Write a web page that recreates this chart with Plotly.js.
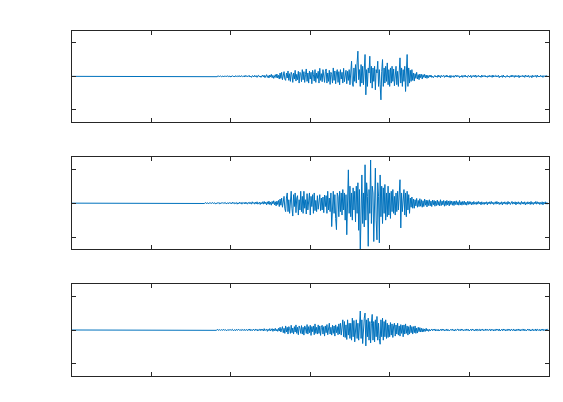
<!DOCTYPE html>
<html><head><meta charset="utf-8">
<script src="https://cdn.plot.ly/plotly-3.0.1.min.js"></script>
<style>html,body{margin:0;padding:0;background:#fff}#plot{width:563px;height:402px}</style>
</head><body><div id="plot"></div>
<script>
// sample interval (time units per sample); time axis 0..6
const dt = 0.01;
const xTicks = [0,1,2,3,4,5,6];
const yTicks = [-1,0,1];

const trace1 = [
0,0,0,0,0,0,0,0,0,0, 0,0,0,0,0,0,0,0,0,0, 0,0,0,0,0,0,0,0,0,0, 0,0,0,0,0,0,0,0,0,0,
0,0,0,0,0,0,0,0,0,0, 0,0,0,0,0,0,0,0,0,0, 0,0,0,0,0,0,0,0,0,0, 0,0,0,0,0,0,0,0,0,0,
0,0,0,0,0,0,0,0,0,0, 0,0,0,0,0,0,0,0,0,0, 0,0,0,0,0,0,0,0,0,0, 0,0,0,0,0,0,0,0,0,0,
0,0,0,0,0,0,0,0,0,0, 0,0,0,0,0,0,0,0,0,0,
0,0,0.01,0,-0.01,0,0.01,0,0,-0.01,
0,0.01,0,-0.01,0.01,0,0,-0.01,0.01,0,
-0.01,0.01,0,0.01,-0.01,0,0.01,-0.01,0,0.01,
0,-0.01,0.01,0.01,-0.01,0,0.01,-0.01,0.01,0,
-0.01,0.01,0,-0.01,0.02,-0.01,0,0.01,-0.01,0.01,
0.01,-0.02,0.01,0,0.01,-0.01,0.02,-0.01,0,0.01,
-0.02,0.01,0.02,-0.01,0.01,-0.02,0.02,0,-0.01,0.02,
-0.01,0.02,-0.02,0.01,0.02,-0.01,0.01,-0.02,0.03,-0.01,
0.02,-0.02,0.01,0.03,-0.02,0.01,-0.03,0.02,0.01,-0.02,
0.03,-0.01,0.02,-0.03,0.02,0.03,-0.02,0.01,-0.03,0.02,
0.04,-0.02,0.03,-0.04,0.02,0.05,-0.03,0.02,-0.05,0.04,
-0.02,0.06,-0.04,0.03,-0.06,0.02,0.05,-0.04,0.07,-0.05,
0.03,-0.08,0.1,-0.06,0.12,-0.1,0.05,0.14,-0.08,-0.12,
0.1,-0.05,0.16,-0.12,0.08,-0.15,0.12,0.05,-0.18,0.1,
-0.08,0.18,-0.14,0.06,-0.1,0.15,-0.2,0.12,0.08,-0.16,
0.2,-0.1,0.14,-0.18,0.06,0.22,-0.15,0.1,-0.2,0.16,
-0.08,0.12,-0.22,0.18,0.05,-0.14,0.2,-0.18,0.1,-0.06,
0.15,-0.2,0.24,-0.12,0.08,-0.16,0.2,-0.1,-0.18,0.14,
0.22,-0.2,0.1,-0.15,0.18,-0.24,0.12,0.06,-0.2,0.25,
-0.12,0.16,-0.22,0.1,0.2,-0.18,0.14,-0.25,0.2,-0.08,
0.12,-0.2,0.24,-0.16,0.1,0.18,-0.22,0.15,-0.12,0.2,
-0.25,0.3,0.45,-0.2,-0.3,0.25,-0.15,0.35,-0.2,0.4,
0.75,-0.1,0.2,-0.3,0.35,-0.2,0.3,-0.25,0.4,0.65,
-0.55,0.2,-0.3,0.25,0.1,0.6,-0.2,0.3,-0.35,0.25,
-0.15,0.3,-0.4,0.2,0.1,0.45,-0.3,0.2,-0.25,-0.7,
0.15,0.5,-0.3,0.25,-0.2,0.3,-0.15,0.4,-0.25,0.2,
-0.3,0.25,-0.2,0.3,-0.15,0.22,-0.28,0.2,0.3,-0.25,
0.15,-0.3,0.2,0.55,-0.2,0.25,-0.3,0.2,-0.15,0.3,
-0.45,0.2,0.65,-0.3,0.25,-0.2,0.18,-0.15,0.2,-0.12,
0.1,-0.14,0.08,-0.06,0.12,-0.08,0.05,-0.1,0.07,-0.04,
0.06,-0.08,0.05,-0.03,0.06,-0.05,0.04,-0.06,0.03,-0.04,
0.03,-0.02,0.04,-0.03,0.01,-0.04,0.02,0.03,-0.02,0.01,
-0.03,0.04,-0.02,0.02,-0.04,0.03,-0.01,0.02,0.03,-0.03,
0.02,-0.02,0.04,-0.02,0.01,-0.03,0.03,-0.04,0.02,-0.01,
0.02,-0.03,0.01,0.04,-0.02,0.03,-0.01,0.02,-0.04,0.01,
-0.02,0.03,-0.03,0.02,-0.01,0.04,-0.02,0.01,-0.03,0.03,
0.01,-0.02,0.03,-0.04,0.02,-0.01,0.03,-0.02,0.04,-0.03,
0.02,-0.01,0.03,-0.02,0.01,-0.03,0.04,-0.02,0.02,-0.01,
0.03,-0.02,0.01,-0.03,0.02,-0.02,0.03,-0.01,0.02,-0.03,
0.04,-0.02,0.01,0.03,-0.02,0.02,-0.01,0.03,-0.04,0.01,
-0.02,0.02,-0.03,0.04,-0.02,0.01,-0.03,0.02,0.03,-0.02,
0.01,-0.03,0.02,-0.02,0.04,-0.01,0.02,-0.03,0.03,-0.02,
0.02,-0.01,0.03,-0.04,0.02,-0.02,0.01,0.03,-0.02,0.02,
-0.03,0.04,-0.01,0.02,-0.02,0.03,-0.03,0.01,0.02,-0.04,
0.03,-0.02,0.02,-0.01,0.03,-0.03,0.04,-0.02,0.01,-0.02,
0.03,-0.01,0.02,-0.03,0.02,0.01,-0.02,0.03,-0.02,0.01,
0
];

const trace2 = [
0,0,0,0,0,0,0,0,0,0, 0,0,0,0,0,0,0,0,0,0, 0,0,0,0,0,0,0,0,0,0, 0,0,0,0,0,0,0,0,0,0,
0,0,0,0,0,0,0,0,0,0, 0,0,0,0,0,0,0,0,0,0, 0,0,0,0,0,0,0,0,0,0, 0,0,0,0,0,0,0,0,0,0,
0,0,0,0,0,0,0,0,0,0, 0,0,0,0,0,0,0,0,0,0, 0,0,0,0,0,0,0,0,0,0, 0,0,0,0,0,0,0,0,0,0,
0,0,0,0,0,0,0,0,0,0, 0,0,0,0,0,0,0,0,0,0,
0,0.01,0,0,-0.01,0.01,0,-0.01,0,0.01,
-0.01,0,0.01,-0.01,0,0.01,0,-0.01,0.01,0,
0.01,-0.01,0,0.01,-0.01,0.01,0,-0.01,0.02,-0.01,
0,0.01,-0.02,0.01,0,0.01,-0.01,0.02,-0.01,0,
0.01,-0.02,0.01,0.01,-0.01,0.02,-0.02,0,0.01,-0.01,
0.02,-0.01,0,0.02,-0.02,0.01,0.01,-0.02,0.02,-0.01,
0.01,-0.02,0.03,-0.01,0.02,-0.02,0.01,0.02,-0.03,0.01,
-0.02,0.03,-0.01,0.02,-0.03,0.02,0.01,-0.02,0.03,-0.02,
0.02,-0.03,0.01,0.03,-0.02,0.02,-0.03,0.04,-0.01,0.02,
-0.03,0.03,-0.02,0.04,-0.03,0.01,0.03,-0.04,0.02,-0.02,
0.04,-0.03,0.05,-0.02,0.03,-0.05,0.04,-0.03,0.06,-0.04,
0.03,-0.06,0.05,-0.02,0.07,-0.05,0.04,-0.08,0.06,-0.04,
0.08,-0.1,0.12,-0.06,0.15,-0.12,0.1,0.2,-0.16,-0.25,
0.15,0.3,-0.25,0.1,-0.3,0.2,0.35,-0.15,-0.38,0.25,
-0.1,0.3,-0.28,0.15,0.22,-0.35,0.1,-0.2,0.35,-0.25,
0.2,-0.3,0.35,-0.15,0.1,-0.32,0.28,-0.2,0.12,0.3,
-0.35,0.2,-0.1,0.25,-0.3,0.3,-0.22,0.08,-0.25,0.22,
-0.18,0.2,0.25,-0.22,0.15,-0.2,0.18,-0.28,0.24,-0.1,
0.22,-0.3,0.35,-0.2,0.15,-0.25,0.3,-0.69,0.2,0.35,
-0.3,0.25,-0.45,-0.78,0.3,0.2,-0.4,0.35,-0.25,0.3,
-0.35,0.4,-0.2,0.3,-0.5,0.25,-0.93,0.4,0.98,-0.3,
0.5,-0.4,0.3,-0.5,0.45,-0.2,0.35,-0.55,0.5,-0.3,
0.6,-0.8,0.4,-1.45,0.2,0.83,-0.6,0.3,-0.7,1.13,
-0.5,0.6,0.2,-1.27,0.4,-0.3,1.27,-0.6,0.5,0.3,
-1.13,0.4,1.03,-0.5,-1.08,0.6,0.2,-1.17,0.83,-0.4,
0.5,-0.6,0.45,-0.3,0.55,-0.5,0.3,-0.4,0.5,-0.35,
0.3,-0.45,0.35,-0.25,0.4,-0.3,0.2,-0.35,0.3,-0.25,
0.35,-0.2,0.15,0.69,-0.73,0.3,-0.25,0.2,0.4,-0.35,
0.3,-0.4,0.35,-0.2,0.25,-0.3,0.15,-0.12,0.18,-0.15,
0.12,-0.15,0.1,-0.08,0.14,-0.12,0.08,-0.1,0.13,-0.09,
0.1,-0.12,0.07,-0.1,0.12,-0.06,0.09,-0.11,0.08,-0.07,
0.1,-0.08,0.06,-0.1,0.09,-0.05,0.08,-0.09,0.06,-0.07,
0.09,-0.06,0.05,-0.08,0.1,-0.07,0.06,-0.05,0.08,-0.09,
0.06,-0.07,0.08,-0.05,0.06,-0.08,0.07,-0.04,0.06,-0.06,
0.05,-0.07,0.06,-0.04,0.07,-0.05,0.04,-0.06,0.08,-0.05,
0.04,-0.06,0.05,-0.04,0.06,-0.05,0.03,-0.06,0.05,-0.04,
0.05,-0.03,0.04,-0.05,0.03,-0.04,0.05,-0.03,0.02,-0.04,
0.04,-0.03,0.05,-0.02,0.03,-0.05,0.04,-0.03,0.02,-0.04,
0.03,-0.02,0.04,-0.05,0.03,-0.02,0.04,-0.03,0.05,-0.02,
0.03,-0.04,0.02,0.04,-0.03,0.05,-0.02,0.03,-0.04,0.02,
-0.03,0.04,-0.05,0.03,-0.02,0.04,-0.03,0.02,-0.04,0.05,
-0.02,0.03,-0.04,0.02,0.05,-0.03,0.03,-0.02,0.04,-0.05,
0.03,-0.02,0.04,-0.03,0.02,-0.04,0.05,-0.02,0.03,-0.03,
0.04,-0.05,0.02,-0.03,0.04,-0.02,0.03,-0.04,0.05,-0.03,
0.02,-0.04,0.03,-0.02,0.05,-0.03,0.04,-0.02,0.03,-0.04,
0.02,-0.03,0.04,-0.05,0.03,-0.02,0.04,-0.03,0.02,-0.03,
0
];

const trace3 = [
0,0,0,0,0,0,0,0,0,0, 0,0,0,0,0,0,0,0,0,0, 0,0,0,0,0,0,0,0,0,0, 0,0,0,0,0,0,0,0,0,0,
0,0,0,0,0,0,0,0,0,0, 0,0,0,0,0,0,0,0,0,0, 0,0,0,0,0,0,0,0,0,0, 0,0,0,0,0,0,0,0,0,0,
0,0,0,0,0,0,0,0,0,0, 0,0,0,0,0,0,0,0,0,0, 0,0,0,0,0,0,0,0,0,0, 0,0,0,0,0,0,0,0,0,0,
0,0,0,0,0,0,0,0,0,0, 0,0,0,0,0,0,0,0,0,0,
0,0,0,0,0,0,0,0.01,0,0,
-0.01,0,0.01,0,-0.01,0,0.01,0,-0.01,0.01,
0,-0.01,0,0.01,-0.01,0,0.01,0,-0.01,0.01,
-0.01,0,0.01,-0.01,0.01,0,-0.01,0.01,0,-0.01,
0.01,0,-0.01,0.02,-0.01,0,0.01,-0.01,0.01,0,
-0.01,0.02,-0.01,0.01,0,-0.02,0.01,0.01,-0.01,0.02,
-0.01,0,0.02,-0.02,0.01,0.01,-0.02,0.02,-0.01,0,
0.02,-0.01,0.01,-0.02,0.02,0,-0.01,0.02,-0.02,0.01,
0.01,-0.02,0.02,-0.01,0.03,-0.02,0.01,-0.02,0.02,0.01,
-0.02,0.03,-0.01,0.02,-0.03,0.01,0.02,-0.02,0.03,-0.01,
0.02,-0.03,0.04,-0.02,0.01,0.03,-0.04,0.02,-0.02,0.04,
-0.03,0.02,0.04,-0.04,0.03,-0.02,0.05,-0.03,0.02,-0.04,
0.05,-0.03,0.08,-0.06,0.04,0.1,-0.08,0.05,-0.1,0.12,
-0.06,0.08,-0.12,0.1,0.04,-0.1,0.14,-0.08,0.06,-0.12,
0.1,-0.06,0.15,-0.1,0.08,-0.14,0.12,0.05,-0.1,0.13,
-0.12,0.08,-0.15,0.12,0.06,-0.1,0.16,-0.12,0.1,-0.08,
0.14,-0.16,0.1,-0.05,0.12,-0.14,0.18,-0.1,0.08,-0.12,
0.15,-0.1,0.12,-0.16,0.08,0.14,-0.12,0.1,-0.18,0.12,
-0.08,0.16,-0.14,0.1,0.2,-0.12,0.08,-0.15,0.14,-0.1,
0.12,-0.18,0.15,-0.08,0.1,-0.14,0.18,-0.12,0.2,-0.15,
0.12,0.3,-0.2,0.25,-0.22,0.15,-0.28,0.3,-0.15,0.2,
-0.25,0.2,-0.3,0.35,-0.2,0.28,-0.35,0.15,0.3,-0.25,
0.2,-0.3,0.4,0.56,-0.25,0.3,-0.4,0.2,0.35,0.5,
-0.47,0.3,-0.2,0.35,-0.3,0.25,-0.38,0.2,0.46,-0.3,
0.25,-0.35,0.3,-0.2,0.4,-0.3,0.2,-0.25,-0.42,0.3,
-0.2,0.35,-0.3,0.25,-0.2,0.3,-0.25,0.2,-0.22,0.15,
-0.2,0.22,-0.15,0.18,-0.22,0.12,0.2,-0.18,0.15,-0.12,
0.2,-0.15,0.12,-0.18,0.16,-0.1,0.14,-0.2,0.15,-0.12,
0.18,-0.1,0.12,-0.15,0.1,-0.12,0.14,-0.08,0.1,-0.12,
0.1,-0.08,0.12,-0.1,0.06,-0.09,0.08,-0.05,0.07,-0.06,
0.05,-0.06,0.04,-0.05,0.03,-0.04,0.05,-0.03,0.02,-0.04,
0.02,-0.03,0.01,0.03,-0.02,0.02,-0.01,0.03,-0.03,0.01,
-0.02,0.02,-0.03,0.01,0.02,-0.02,0.03,-0.01,0.02,-0.03,
0.01,-0.02,0.03,-0.02,0.01,-0.03,0.02,0.02,-0.01,0.03,
-0.02,0.01,-0.03,0.02,-0.01,0.02,0.03,-0.02,0.01,-0.02,
0.03,-0.01,0.02,-0.03,0.01,0.02,-0.02,0.03,-0.01,0.02,
-0.03,0.01,0.02,-0.02,0.03,-0.01,0.01,-0.03,0.02,-0.02,
0.03,-0.02,0.01,0.02,-0.03,0.02,-0.01,0.03,-0.02,0.01,
-0.02,0.03,-0.01,0.02,-0.02,0.01,0.03,-0.03,0.02,-0.01,
0.02,-0.03,0.01,-0.02,0.03,-0.01,0.02,-0.02,0.03,-0.03,
0.01,0.02,-0.02,0.03,-0.01,0.02,-0.03,0.01,-0.02,0.03,
-0.01,0.02,-0.03,0.02,0.01,-0.02,0.03,-0.02,0.01,-0.03,
0.02,-0.01,0.03,-0.02,0.02,-0.03,0.01,0.02,-0.02,0.03,
-0.02,0.01,-0.03,0.02,0.03,-0.01,0.02,-0.03,0.01,-0.02,
0.03,-0.02,0.01,-0.02,0.03,-0.03,0.02,0.01,-0.02,0.02,
-0.03,0.02,-0.01,0.03,-0.02,0.01,-0.02,0.03,-0.01,0.02,
0
];

const series = [trace1, trace2, trace3];
const lineColor = '#0072BD';
const axisColor = '#262626';

const W = 563, H = 402;
const xDom = [72/W, 548.5/W];
const yDoms = [
  [1-121.7/H, 1-31/H],
  [1-249/H, 1-157.3/H],
  [1-375.7/H, 1-284.3/H]
];

const data = series.map((vals, k) => ({
  type: 'scatter', mode: 'lines',
  x: vals.map((_, i) => i*dt),
  y: vals,
  xaxis: k === 0 ? 'x' : 'x' + (k+1),
  yaxis: k === 0 ? 'y' : 'y' + (k+1),
  line: {color: lineColor, width: 1},
  hoverinfo: 'skip', showlegend: false
}));

const layout = {
  width: W, height: H,
  margin: {l:0, r:0, t:0, b:0},
  paper_bgcolor: '#ffffff', plot_bgcolor: '#ffffff',
  showlegend: false
};

function xAxis(k) {
  return {
    domain: xDom, range: [0, 6], anchor: k === 0 ? 'y' : 'y' + (k+1),
    tickvals: xTicks, showticklabels: false, ticks: 'inside', ticklen: 4,
    tickcolor: axisColor, tickwidth: 1,
    showline: true, linecolor: axisColor, linewidth: 1, mirror: 'ticks',
    showgrid: false, zeroline: false, fixedrange: true
  };
}
function yAxis(k) {
  return {
    domain: yDoms[k], range: [-1.35, 1.35], anchor: k === 0 ? 'x' : 'x' + (k+1),
    tickvals: yTicks, showticklabels: false, ticks: 'inside', ticklen: 4,
    tickcolor: axisColor, tickwidth: 1,
    showline: true, linecolor: axisColor, linewidth: 1, mirror: 'ticks',
    showgrid: false, zeroline: false, fixedrange: true
  };
}
for (let k = 0; k < 3; k++) {
  layout[k === 0 ? 'xaxis' : 'xaxis' + (k+1)] = xAxis(k);
  layout[k === 0 ? 'yaxis' : 'yaxis' + (k+1)] = yAxis(k);
}

Plotly.newPlot('plot', data, layout, {displayModeBar: false, staticPlot: true});
</script>
</body></html>
